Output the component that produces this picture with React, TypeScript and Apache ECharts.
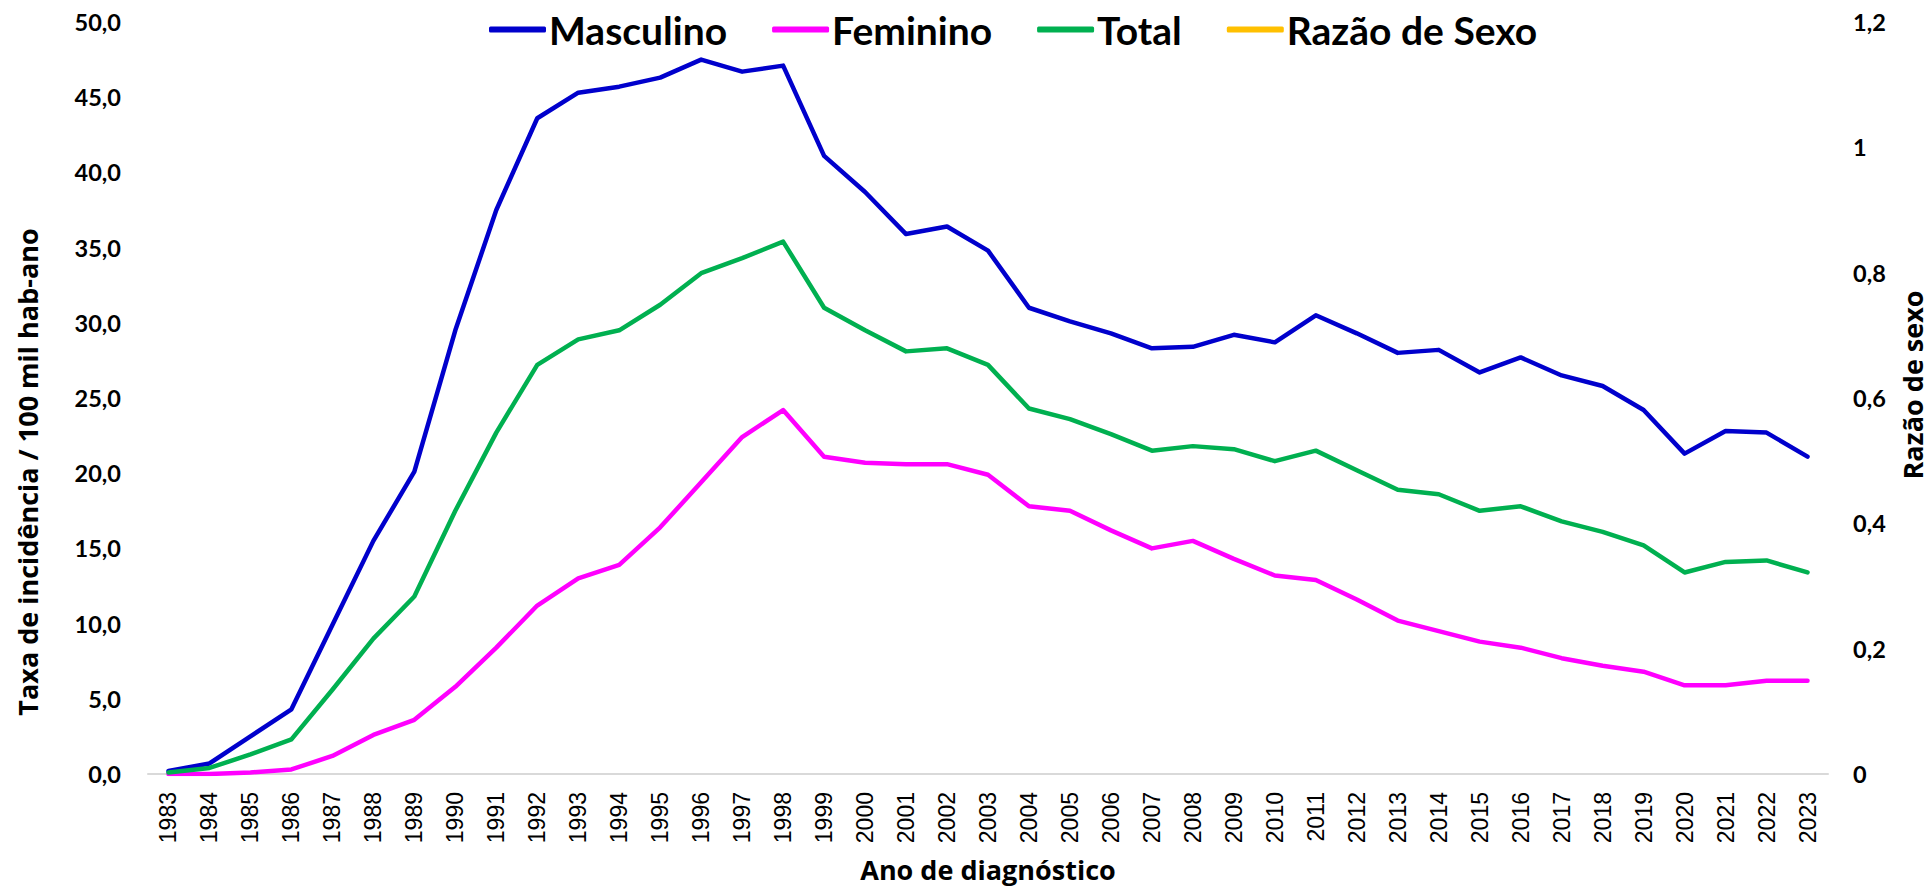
import React, { useEffect, useRef } from "react";
import * as echarts from "echarts";

const years: string[] = [
  "1983","1984","1985","1986","1987","1988","1989","1990","1991","1992",
  "1993","1994","1995","1996","1997","1998","1999","2000","2001","2002",
  "2003","2004","2005","2006","2007","2008","2009","2010","2011","2012",
  "2013","2014","2015","2016","2017","2018","2019","2020","2021","2022","2023",
];

const masculino: number[] = [
  0.2, 0.7, 2.5, 4.3, 9.9, 15.5, 20.1, 29.5, 37.5, 43.6,
  45.3, 45.7, 46.3, 47.5, 46.7, 47.1, 41.1, 38.7, 35.9, 36.4,
  34.8, 31.0, 30.1, 29.3, 28.3, 28.4, 29.2, 28.7, 30.5, 29.3,
  28.0, 28.2, 26.7, 27.7, 26.5, 25.8, 24.2, 21.3, 22.8, 22.7, 21.1,
];

const feminino: number[] = [
  0.0, 0.0, 0.1, 0.3, 1.2, 2.6, 3.6, 5.8, 8.4, 11.2,
  13.0, 13.9, 16.4, 19.4, 22.4, 24.2, 21.1, 20.7, 20.6, 20.6,
  19.9, 17.8, 17.5, 16.2, 15.0, 15.5, 14.3, 13.2, 12.9, 11.6,
  10.2, 9.5, 8.8, 8.4, 7.7, 7.2, 6.8, 5.9, 5.9, 6.2, 6.2,
];

const total: number[] = [
  0.1, 0.4, 1.3, 2.3, 5.6, 9.0, 11.8, 17.5, 22.7, 27.2,
  28.9, 29.5, 31.2, 33.3, 34.3, 35.4, 31.0, 29.5, 28.1, 28.3,
  27.2, 24.3, 23.6, 22.6, 21.5, 21.8, 21.6, 20.8, 21.5, 20.2,
  18.9, 18.6, 17.5, 17.8, 16.8, 16.1, 15.2, 13.4, 14.1, 14.2, 13.4,
];

// Razão de Sexo appears only in the legend (no visible line in the reference)
const razaoSexo: (number | null)[] = [];

const seriesNames = ["Masculino", "Feminino", "Total", "Razão de Sexo"];
const leftTitle = "Taxa de incidência / 100 mil hab-ano";
const rightTitle = "Razão de sexo";
const xTitle = "Ano de diagnóstico";

const TICK_FONT = "Lato, 'DejaVu Sans Condensed', sans-serif";
const TITLE_FONT = "'Open Sans', 'Noto Sans', sans-serif";

export default function App() {
  const ref = useRef<HTMLDivElement>(null);

  useEffect(() => {
    if (!ref.current) return;
    const chart = echarts.init(ref.current, undefined, { renderer: "svg" });

    const lineSeries = (name: string, data: (number | null)[], color: string, yAxisIndex = 0) => ({
      name,
      type: "line",
      yAxisIndex,
      data,
      symbol: "none",
      showSymbol: false,
      smooth: false,
      color,
      itemStyle: { color },
      lineStyle: { color, width: 4.5, join: "round", cap: "round" },
      emphasis: { disabled: true },
    });

    chart.setOption({
      animation: false,
      backgroundColor: "#ffffff",
      grid: { left: 148, right: 104, top: 22, bottom: 115, containLabel: false },
      legend: {
        data: seriesNames,
        left: 484,
        top: 5,
        icon: "roundRect",
        itemWidth: 57,
        itemHeight: 6,
        itemGap: 45,
        textStyle: {
          fontFamily: TICK_FONT,
          fontWeight: "bold",
          fontSize: 39,
          color: "#000000",
          padding: [0, 0, 0, -2],
        },
      },
      xAxis: {
        type: "category",
        data: years,
        boundaryGap: true,
        axisLine: { show: true, lineStyle: { color: "#d9d9d9", width: 2 } },
        axisTick: { show: false },
        splitLine: { show: false },
        axisLabel: {
          rotate: 90,
          interval: 0,
          margin: 18,
          fontFamily: "'Liberation Sans', Arial, sans-serif",
          fontSize: 23,
          color: "#000000",
        },
      },
      yAxis: [
        {
          type: "value",
          min: 0,
          max: 50,
          interval: 5,
          axisLine: { show: false },
          axisTick: { show: false },
          splitLine: { show: false },
          axisLabel: {
            margin: 27,
            fontFamily: TICK_FONT,
            fontWeight: "bold",
            fontSize: 23.5,
            color: "#000000",
            formatter: (v: number) => v.toFixed(1).replace(".", ","),
          },
        },
        {
          type: "value",
          min: 0,
          max: 1.2,
          interval: 0.2,
          position: "right",
          axisLine: { show: false },
          axisTick: { show: false },
          splitLine: { show: false },
          axisLabel: {
            margin: 25,
            fontFamily: TICK_FONT,
            fontWeight: "bold",
            fontSize: 23.5,
            color: "#000000",
            formatter: (v: number) => String(Number(v.toFixed(1))).replace(".", ","),
          },
        },
      ],
      series: [
        lineSeries(seriesNames[0], masculino, "#0000CC"),
        lineSeries(seriesNames[1], feminino, "#FF00FF"),
        lineSeries(seriesNames[2], total, "#00B050"),
        lineSeries(seriesNames[3], razaoSexo, "#FFC000", 1),
      ],
      graphic: [
        {
          type: "text",
          x: 27,
          y: 472,
          rotation: Math.PI / 2,
          style: {
            text: leftTitle,
            fontFamily: TITLE_FONT,
            fontWeight: "bold",
            fontSize: 27,
            fill: "#000000",
            align: "center",
            verticalAlign: "middle",
          },
        },
        {
          type: "text",
          x: 1912,
          y: 385,
          rotation: Math.PI / 2,
          style: {
            text: rightTitle,
            fontFamily: TITLE_FONT,
            fontWeight: "bold",
            fontSize: 27,
            fill: "#000000",
            align: "center",
            verticalAlign: "middle",
          },
        },
        {
          type: "text",
          x: 988,
          y: 869,
          style: {
            text: xTitle,
            fontFamily: TITLE_FONT,
            fontWeight: "bold",
            fontSize: 27,
            fill: "#000000",
            align: "center",
            verticalAlign: "middle",
          },
        },
      ],
    });

    return () => chart.dispose();
  }, []);

  return (
    <div
      ref={ref}
      style={{ position: "fixed", left: 0, top: 0, width: 1932, height: 889, background: "#fff" }}
    />
  );
}
